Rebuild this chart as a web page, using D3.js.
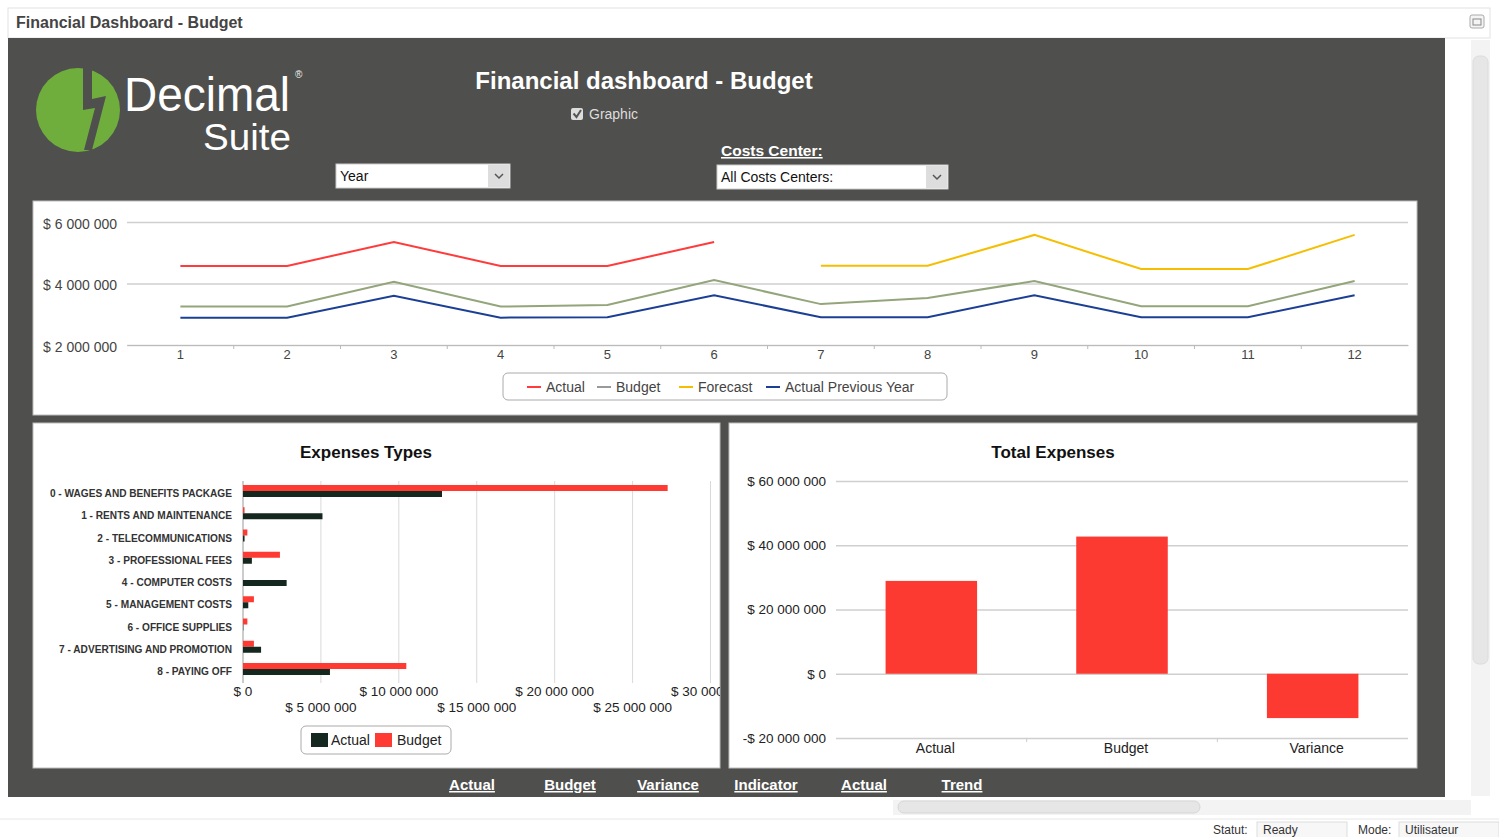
<!DOCTYPE html>
<html>
<head>
<meta charset="utf-8">
<title>Financial Dashboard - Budget</title>
<script src="https://cdn.jsdelivr.net/npm/d3@7"></script>
<style>
body { margin: 0; background: #fff; overflow: hidden; }
svg text { font-family: "Liberation Sans", Arial, sans-serif; }
</style>
</head>
<body>
<svg id="dash" width="1499" height="837"></svg>
<script>
// Monthly trend (line chart)
const months = [1, 2, 3, 4, 5, 6, 7, 8, 9, 10, 11, 12];
const actual = [4.57e6, 4.57e6, 5.35e6, 4.57e6, 4.57e6, 5.35e6, null, null, null, null, null, null];
const budget = [3.25e6, 3.25e6, 4.06e6, 3.25e6, 3.30e6, 4.11e6, 3.33e6, 3.53e6, 4.08e6, 3.26e6, 3.26e6, 4.08e6];
const forecast = [null, null, null, null, null, null, 4.58e6, 4.58e6, 5.58e6, 4.47e6, 4.47e6, 5.58e6];
const actualPrevYear = [2.89e6, 2.89e6, 3.60e6, 2.89e6, 2.90e6, 3.62e6, 2.90e6, 2.90e6, 3.62e6, 2.90e6, 2.90e6, 3.62e6];
const lineTicks = [2e6, 4e6, 6e6];

// Expenses types (horizontal bars)
const expenseTypes = [
	'0 - WAGES AND BENEFITS PACKAGE',
	'1 - RENTS AND MAINTENANCE',
	'2 - TELECOMMUNICATIONS',
	'3 - PROFESSIONAL FEES',
	'4 - COMPUTER COSTS',
	'5 - MANAGEMENT COSTS',
	'6 - OFFICE SUPPLIES',
	'7 - ADVERTISING AND PROMOTION',
	'8 - PAYING OFF',
];
const expenseActual = [12.77e6, 5.10e6, 0.10e6, 0.57e6, 2.80e6, 0.34e6, 0.02e6, 1.16e6, 5.58e6];
const expenseBudget = [27.25e6, 0.10e6, 0.28e6, 2.37e6, 0, 0.70e6, 0.28e6, 0.70e6, 10.48e6];
const expenseTicks = [0, 5e6, 10e6, 15e6, 20e6, 25e6, 30e6];

// Total expenses (columns)
const totalCategories = ['Actual', 'Budget', 'Variance'];
const totalValues = [28.9e6, 42.7e6, -13.8e6];
const totalTicks = [-20e6, 0, 20e6, 40e6, 60e6];

const bottomLinks = ['Actual', 'Budget', 'Variance', 'Indicator', 'Actual', 'Trend'];

const RED = '#ff3a33';
const money = v => (v < 0 ? '-' : '') + '$ ' + d3.format(',')(Math.abs(v)).replace(/,/g, ' ');

const svg = d3.select('#dash');

// ---- window chrome
svg.append('rect').attr('x', 8).attr('y', 8).attr('width', 1482).attr('height', 30)
	.attr('fill', '#fff').attr('stroke', '#e2e2e2');
svg.append('text').attr('x', 16).attr('y', 28).text('Financial Dashboard - Budget')
	.attr('font-size', 16).attr('font-weight', 'bold').attr('fill', '#444');
svg.append('rect').attr('x', 1470).attr('y', 15).attr('width', 14).attr('height', 13).attr('rx', 2)
	.attr('fill', '#f4f4f4').attr('stroke', '#aaa');
svg.append('rect').attr('x', 1473).attr('y', 19).attr('width', 8).attr('height', 6)
	.attr('fill', 'none').attr('stroke', '#888');

// right scroll bar
svg.append('rect').attr('x', 1471).attr('y', 40).attr('width', 19).attr('height', 756).attr('fill', '#f3f3f3');
svg.append('rect').attr('x', 1473).attr('y', 56).attr('width', 15).attr('height', 608).attr('rx', 6)
	.attr('fill', '#e6e6e6').attr('stroke', '#dcdcdc');
// bottom scroll bar
svg.append('rect').attr('x', 893).attr('y', 800).attr('width', 578).attr('height', 15).attr('fill', '#f3f3f3');
svg.append('rect').attr('x', 898).attr('y', 801).attr('width', 302).attr('height', 12).attr('rx', 6)
	.attr('fill', '#e6e6e6').attr('stroke', '#d6d6d6');
svg.append('line').attr('x1', 0).attr('x2', 1499).attr('y1', 819).attr('y2', 819).attr('stroke', '#e6e6e6');

// status bar
const status = svg.append('g').attr('font-size', 12).attr('fill', '#333');
status.append('text').attr('x', 1213).attr('y', 834).text('Statut:').attr('fill', '#333');
status.append('rect').attr('x', 1257).attr('y', 822).attr('width', 90).attr('height', 16).attr('fill', '#f7f7f7').attr('stroke', '#ddd');
status.append('text').attr('x', 1263).attr('y', 834).text('Ready').attr('fill', '#333');
status.append('text').attr('x', 1358).attr('y', 834).text('Mode:').attr('fill', '#333');
status.append('rect').attr('x', 1399).attr('y', 822).attr('width', 100).attr('height', 16).attr('fill', '#f7f7f7').attr('stroke', '#ddd');
status.append('text').attr('x', 1405).attr('y', 834).text('Utilisateur').attr('fill', '#333');

// ---- dark dashboard background
svg.append('rect').attr('x', 8).attr('y', 38).attr('width', 1437).attr('height', 759).attr('fill', '#4f4f4d');

// logo
const logo = svg.append('g');
logo.append('circle').attr('cx', 78).attr('cy', 110).attr('r', 42).attr('fill', '#6fae3c');
logo.append('path').attr('d', 'M83,66 L92,66 L92,99 L106,96 L92,150 L84,150 L95,108 L83,110 Z')
	.attr('fill', '#4f4f4d');
logo.append('text').attr('x', 124).attr('y', 111).text('Decimal')
	.attr('font-family', '"Open Sans", "Liberation Sans", sans-serif').attr('font-weight', 300)
	.attr('font-size', 48).attr('fill', '#fff').attr('textLength', 166).attr('lengthAdjust', 'spacingAndGlyphs');
logo.append('text').attr('x', 295).attr('y', 78).text('®').attr('font-size', 10).attr('fill', '#eee');
logo.append('text').attr('x', 203).attr('y', 150).text('Suite')
	.attr('font-family', '"Open Sans", "Liberation Sans", sans-serif').attr('font-weight', 300)
	.attr('font-size', 36).attr('fill', '#fff').attr('textLength', 88).attr('lengthAdjust', 'spacingAndGlyphs');

// header
svg.append('text').attr('x', 644).attr('y', 89).attr('text-anchor', 'middle')
	.text('Financial dashboard - Budget').attr('font-size', 24).attr('font-weight', 'bold').attr('fill', '#fff');
svg.append('rect').attr('x', 571).attr('y', 108).attr('width', 12).attr('height', 12).attr('rx', 2).attr('fill', '#ddd');
svg.append('path').attr('d', 'M573.5,113.5 L576.5,117 L581,110').attr('fill', 'none').attr('stroke', '#555').attr('stroke-width', 2);
svg.append('text').attr('x', 589).attr('y', 119).text('Graphic').attr('font-size', 14).attr('fill', '#ddd');

svg.append('text').attr('x', 721).attr('y', 156).text('Costs Center:').attr('font-size', 15.5)
	.attr('font-weight', 'bold').attr('fill', '#fff').attr('text-decoration', 'underline');

function selectBox(x, y, w, label) {
	const g = svg.append('g');
	g.append('rect').attr('x', x).attr('y', y).attr('width', w).attr('height', 24).attr('fill', '#fff').attr('stroke', '#ccc');
	g.append('rect').attr('x', x + w - 22).attr('y', y + 1).attr('width', 21).attr('height', 22).attr('fill', '#ddd');
	g.append('path').attr('d', `M${x + w - 15},${y + 10} l4,4 l4,-4`).attr('fill', 'none').attr('stroke', '#555').attr('stroke-width', 1.5);
	g.append('text').attr('x', x + 4).attr('y', y + 17).text(label).attr('font-size', 14).attr('fill', '#111');
}
selectBox(336, 164, 174, 'Year');
selectBox(717, 165, 231, 'All Costs Centers:');

// bottom links
const xLinks = d3.scalePoint().domain(d3.range(bottomLinks.length)).range([472, 962]);
svg.append('g').selectAll('text').data(bottomLinks).enter().append('text')
	.attr('x', (d, i) => xLinks(i)).attr('y', 790).attr('text-anchor', 'middle')
	.attr('font-size', 15).attr('font-weight', 'bold').attr('fill', '#fff')
	.attr('text-decoration', 'underline').text(d => d);

// ---- line chart panel
svg.append('rect').attr('x', 33).attr('y', 201).attr('width', 1384).attr('height', 214)
	.attr('fill', '#fff').attr('stroke', '#bdbdbd');
const xL = d3.scaleBand().domain(months).range([127, 1408]);
const yL = d3.scaleLinear().domain([2e6, 6e6]).range([345, 222]);

const gyL = svg.append('g').attr('transform', 'translate(127,0)')
	.call(d3.axisLeft(yL).tickValues(lineTicks).tickSize(-1281).tickPadding(10).tickFormat(money));
gyL.select('.domain').remove();
gyL.selectAll('line').attr('stroke', '#cfcfcf').attr('stroke-width', 1.5);
gyL.selectAll('text').attr('font-size', 14).attr('fill', '#444').attr('dy', '0.45em');

const gxL = svg.append('g').attr('transform', 'translate(0,345)')
	.call(d3.axisBottom(xL).tickSize(0).tickPadding(5));
gxL.select('.domain').attr('stroke', '#bbb');
gxL.selectAll('text').attr('font-size', 13).attr('fill', '#444');
gxL.append('g').selectAll('line').data(months.slice(1)).enter().append('line')
	.attr('x1', d => xL(d)).attr('x2', d => xL(d)).attr('y1', 0).attr('y2', 4).attr('stroke', '#bbb');

const lineSeries = [
	{ name: 'Actual', values: actual, color: '#ff3b3b' },
	{ name: 'Budget', values: budget, color: '#93a57a' },
	{ name: 'Forecast', values: forecast, color: '#f5be00' },
	{ name: 'Actual Previous Year', values: actualPrevYear, color: '#1c3f96' },
];
const line = d3.line().defined(d => d != null)
	.x((d, i) => xL(months[i]) + xL.bandwidth() / 2).y(d => yL(d));
svg.append('g').selectAll('path').data(lineSeries).enter().append('path')
	.attr('d', d => line(d.values)).attr('fill', 'none')
	.attr('stroke', d => d.color).attr('stroke-width', 2);

// line legend
const lgL = svg.append('g');
lgL.append('rect').attr('x', 503).attr('y', 373).attr('width', 444).attr('height', 27).attr('rx', 5)
	.attr('fill', '#fff').attr('stroke', '#aaa');
const legendX = [527, 597, 679, 766];
lineSeries.forEach((s, i) => {
	lgL.append('line').attr('x1', legendX[i]).attr('x2', legendX[i] + 14).attr('y1', 387).attr('y2', 387)
		.attr('stroke', s.name === 'Budget' ? '#999' : s.color).attr('stroke-width', 2);
	lgL.append('text').attr('x', legendX[i] + 19).attr('y', 392).text(s.name).attr('font-size', 14).attr('fill', '#444');
});

// ---- expenses types panel
svg.append('rect').attr('x', 33).attr('y', 423).attr('width', 687).attr('height', 345)
	.attr('fill', '#fff').attr('stroke', '#bdbdbd');
svg.append('text').attr('x', 366).attr('y', 458).attr('text-anchor', 'middle').text('Expenses Types')
	.attr('font-size', 17).attr('font-weight', 'bold').attr('fill', '#111');

const xE = d3.scaleLinear().domain([0, 30e6]).range([243, 710.5]);
const yE = d3.scalePoint().domain(expenseTypes).range([491, 669]);
const ySub = d3.scaleBand().domain(['Budget', 'Actual']).range([-6, 6]);

const clipE = svg.append('clipPath').attr('id', 'clipE');
clipE.append('rect').attr('x', 33).attr('y', 423).attr('width', 687).attr('height', 345);
const gE = svg.append('g').attr('clip-path', 'url(#clipE)');

gE.append('g').selectAll('line').data(expenseTicks.slice(1)).enter().append('line')
	.attr('x1', d => xE(d)).attr('x2', d => xE(d)).attr('y1', 481).attr('y2', 683)
	.attr('stroke', '#d9d9d9');
gE.append('line').attr('x1', xE(0)).attr('x2', xE(0)).attr('y1', 481).attr('y2', 683).attr('stroke', '#999');

gE.append('g').selectAll('text').data(expenseTicks).enter().append('text')
	.attr('x', d => xE(d)).attr('y', (d, i) => i % 2 === 0 ? 696 : 712)
	.attr('text-anchor', 'middle').attr('font-size', 13.5).attr('fill', '#222').text(money);

// narrow category labels: horizontally condensed bold text
gE.append('g').selectAll('text').data(expenseTypes).enter().append('text')
	.attr('transform', d => `translate(232,${yE(d) + 2}) scale(0.88,1)`)
	.attr('dy', '0.35em').attr('text-anchor', 'end')
	.attr('font-size', 11.5).attr('font-weight', 'bold').attr('fill', '#333').text(d => d);

gE.append('g').selectAll('rect').data(expenseBudget).enter().append('rect')
	.attr('x', xE(0)).attr('y', (d, i) => yE(expenseTypes[i]) + ySub('Budget'))
	.attr('width', d => xE(d) - xE(0)).attr('height', ySub.bandwidth()).attr('fill', RED);
gE.append('g').selectAll('rect').data(expenseActual).enter().append('rect')
	.attr('x', xE(0)).attr('y', (d, i) => yE(expenseTypes[i]) + ySub('Actual'))
	.attr('width', d => xE(d) - xE(0)).attr('height', ySub.bandwidth()).attr('fill', '#14281f');

const lgE = svg.append('g');
lgE.append('rect').attr('x', 301).attr('y', 726).attr('width', 150).attr('height', 28).attr('rx', 5)
	.attr('fill', '#fff').attr('stroke', '#aaa');
lgE.append('rect').attr('x', 311).attr('y', 733).attr('width', 17).attr('height', 14).attr('fill', '#14281f');
lgE.append('text').attr('x', 331).attr('y', 745).text('Actual').attr('font-size', 14).attr('fill', '#222');
lgE.append('rect').attr('x', 375).attr('y', 733).attr('width', 17).attr('height', 14).attr('fill', RED);
lgE.append('text').attr('x', 397).attr('y', 745).text('Budget').attr('font-size', 14).attr('fill', '#222');

// ---- total expenses panel
svg.append('rect').attr('x', 729).attr('y', 423).attr('width', 688).attr('height', 345)
	.attr('fill', '#fff').attr('stroke', '#bdbdbd');
svg.append('text').attr('x', 1053).attr('y', 458).attr('text-anchor', 'middle').text('Total Expenses')
	.attr('font-size', 17).attr('font-weight', 'bold').attr('fill', '#111');

const xT = d3.scaleBand().domain(totalCategories).range([836, 1408]).paddingInner(0.52).paddingOuter(0.26);
const yT = d3.scaleLinear().domain([-20e6, 60e6]).range([738, 481]);

const gyT = svg.append('g').attr('transform', 'translate(836,0)')
	.call(d3.axisLeft(yT).tickValues(totalTicks).tickSize(-572).tickPadding(10).tickFormat(money));
gyT.select('.domain').remove();
gyT.selectAll('line').attr('stroke', '#cfcfcf').attr('stroke-width', 1.5);
gyT.selectAll('text').attr('font-size', 13.5).attr('fill', '#222');

const bandStep = (1408 - 836) / totalCategories.length;
svg.append('g').selectAll('line').data(d3.range(1, totalCategories.length)).enter().append('line')
	.attr('x1', d => 836 + d * bandStep).attr('x2', d => 836 + d * bandStep)
	.attr('y1', 738).attr('y2', 742).attr('stroke', '#ccc');

svg.append('g').selectAll('rect').data(totalValues).enter().append('rect')
	.attr('x', (d, i) => xT(totalCategories[i])).attr('width', xT.bandwidth())
	.attr('y', d => yT(Math.max(0, d))).attr('height', d => Math.abs(yT(d) - yT(0)))
	.attr('fill', '#fc3a31');

svg.append('g').selectAll('text').data(totalCategories).enter().append('text')
	.attr('x', d => xT(d) + xT.bandwidth() / 2 + 4).attr('y', 753).attr('text-anchor', 'middle')
	.attr('font-size', 14).attr('fill', '#222').text(d => d);
</script>
</body>
</html>
